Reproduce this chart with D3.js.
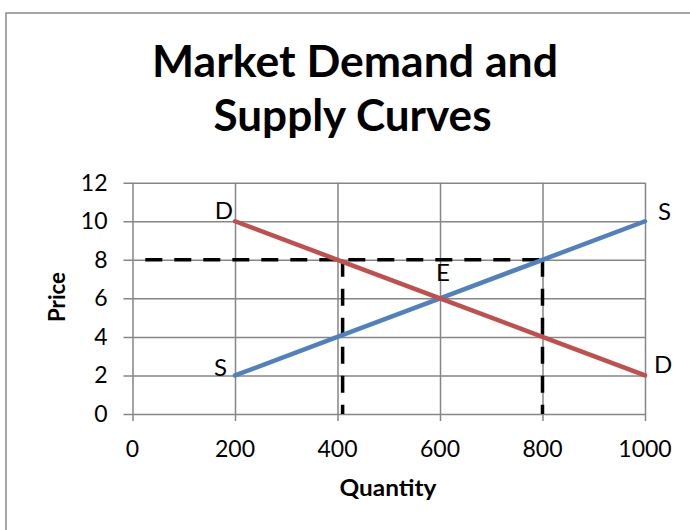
<!DOCTYPE html>
<html>
<head>
<meta charset="utf-8">
<script src="https://cdn.jsdelivr.net/npm/d3@7"></script>
<style>
  html, body { margin: 0; padding: 0; background: #fff; }
  svg { display: block; }
  text { font-family: Lato, "Open Sans", sans-serif; fill: #000; }
</style>
</head>
<body>
<svg id="chart" width="690" height="530"></svg>
<script>
// Quantity / price points on each curve
const quantities   = [200, 400, 600, 800, 1000];
const supplyPrices = [2, 4, 6, 8, 10];
const demandPrices = [10, 8, 6, 4, 2];

// Price ceiling guide at 8 and the quantities it meets
const guidePrice      = 8;
const guideStartQty   = 25;
const guideDemandQty  = 410;
const guideSupplyQty  = 800;

// Axis ticks
const xTicks = [0, 200, 400, 600, 800, 1000];
const yTicks = [0, 2, 4, 6, 8, 10, 12];

// Curve end labels
const curveLabels = [
  { text: "D", q: 200,  p: 10 },
  { text: "S", q: 1000, p: 10 },
  { text: "S", q: 200,  p: 2 },
  { text: "D", q: 1000, p: 2 },
  { text: "E", q: 600,  p: 6 }
];

const titleLines = ["Market Demand and", "Supply Curves"];

const svg = d3.select("#chart");

// outer chart frame (extends past the window on the right and bottom)
svg.append("rect")
  .attr("x", 6).attr("y", 13)
  .attr("width", 720).attr("height", 600)
  .attr("fill", "#fff")
  .attr("stroke", "#8a8a8a").attr("stroke-width", 1.5);

const plot = { left: 132.5, right: 645, top: 182.7, bottom: 414 };

const x = d3.scaleLinear().domain([0, 1000]).range([plot.left, plot.right]);
const y = d3.scaleLinear().domain([0, 12]).range([plot.bottom, plot.top]);

const gridColor = "#868686";

// vertical gridlines with outward ticks
const xAxis = d3.axisBottom(x).tickValues(xTicks)
  .tickSize(-(plot.bottom - plot.top)).tickFormat("");
const gx = svg.append("g")
  .attr("transform", `translate(0,${plot.bottom})`)
  .call(xAxis);
gx.select(".domain").remove();
gx.selectAll(".tick line")
  .attr("stroke", gridColor).attr("stroke-width", 1.5)
  .attr("y1", 7);

// horizontal gridlines with outward ticks
const yAxis = d3.axisLeft(y).tickValues(yTicks)
  .tickSize(-(plot.right - plot.left)).tickFormat("");
const gy = svg.append("g")
  .attr("transform", `translate(${plot.left},0)`)
  .call(yAxis);
gy.select(".domain").remove();
gy.selectAll(".tick line")
  .attr("stroke", gridColor).attr("stroke-width", 1.5)
  .attr("x1", -9);

// tick labels
svg.append("g").selectAll("text")
  .data(xTicks).join("text")
  .attr("x", d => x(d))
  .attr("y", 456.5)
  .attr("text-anchor", "middle")
  .attr("font-size", 23)
  .text(d => d);

svg.append("g").selectAll("text")
  .data(yTicks).join("text")
  .attr("x", 107.5)
  .attr("y", d => y(d) + 8)
  .attr("text-anchor", "end")
  .attr("font-size", 23)
  .text(d => d);

// axis titles
svg.append("text")
  .attr("x", 388).attr("y", 495.5)
  .attr("text-anchor", "middle")
  .attr("font-size", 22).attr("font-weight", "bold")
  .attr("textLength", 97).attr("lengthAdjust", "spacingAndGlyphs")
  .text("Quantity");

svg.append("text")
  .attr("transform", "translate(65,297) rotate(-90)")
  .attr("text-anchor", "middle")
  .attr("font-size", 22).attr("font-weight", "bold")
  .attr("textLength", 50).attr("lengthAdjust", "spacingAndGlyphs")
  .text("Price");

// title
const titleBaselines = [77, 131];
const titleCenters = [355, 352.5];
const titleWidths = [406, 278];
svg.append("g").selectAll("text")
  .data(titleLines).join("text")
  .attr("x", (d, i) => titleCenters[i])
  .attr("y", (d, i) => titleBaselines[i])
  .attr("text-anchor", "middle")
  .attr("font-size", 43).attr("font-weight", "bold")
  .attr("textLength", (d, i) => titleWidths[i])
  .attr("lengthAdjust", "spacingAndGlyphs")
  .text(d => d);

// dashed guide lines
const line = d3.line().x(d => x(d[0])).y(d => y(d[1]));
const guides = [
  [[guideStartQty, guidePrice], [guideSupplyQty, guidePrice]],
  [[guideDemandQty, guidePrice], [guideDemandQty, 0]],
  [[guideSupplyQty, guidePrice], [guideSupplyQty, 0]]
];
svg.append("g").selectAll("path")
  .data(guides).join("path")
  .attr("d", line)
  .attr("fill", "none")
  .attr("stroke", "#000")
  .attr("stroke-width", 3.5)
  .attr("stroke-dasharray", "17,12");

// supply and demand curves
const supply = quantities.map((q, i) => [q, supplyPrices[i]]);
const demand = quantities.map((q, i) => [q, demandPrices[i]]);

svg.append("path")
  .attr("d", line(supply))
  .attr("fill", "none")
  .attr("stroke", "#4F81BD")
  .attr("stroke-width", 4.5)
  .attr("stroke-linecap", "round");

svg.append("path")
  .attr("d", line(demand))
  .attr("fill", "none")
  .attr("stroke", "#C0504D")
  .attr("stroke-width", 4.5)
  .attr("stroke-linecap", "round");

// curve labels
const labelOffsets = {
  "D200":  { dx: -2,  dy: -2,  anchor: "end" },
  "S1000": { dx: 13,  dy: -1,  anchor: "start" },
  "S200":  { dx: -8,  dy: 1,   anchor: "end" },
  "D1000": { dx: 9,   dy: -2,  anchor: "start" },
  "E600":  { dx: 3,   dy: -17, anchor: "middle" }
};
svg.append("g").selectAll("text")
  .data(curveLabels).join("text")
  .attr("x", d => x(d.q) + labelOffsets[d.text + d.q].dx)
  .attr("y", d => y(d.p) + labelOffsets[d.text + d.q].dy)
  .attr("text-anchor", d => labelOffsets[d.text + d.q].anchor)
  .attr("font-size", 24)
  .text(d => d.text);
</script>
</body>
</html>
